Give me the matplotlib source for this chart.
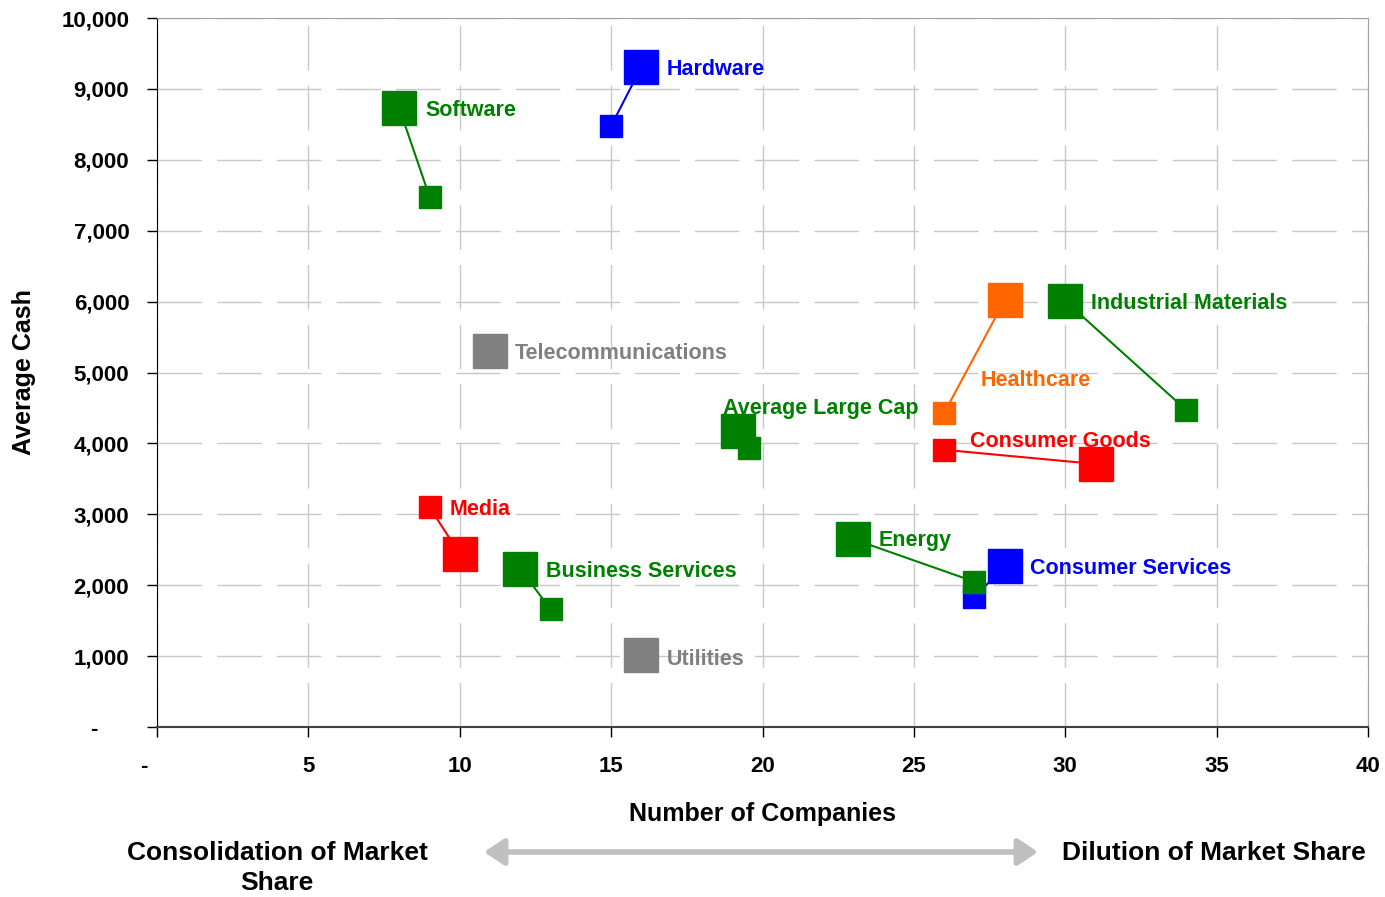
import matplotlib
matplotlib.use("Agg")
import matplotlib.pyplot as plt
from matplotlib.ticker import FuncFormatter

plt.rcParams['font.family'] = ['Liberation Sans', 'DejaVu Sans']
plt.rcParams['font.weight'] = 'bold'

# sectors: label, colour, small marker (x, y), big marker (x, y)
sectors = ["Software", "Hardware", "Telecommunications", "Average Large Cap",
           "Healthcare", "Industrial Materials", "Consumer Goods", "Media",
           "Business Services", "Consumer Services", "Energy", "Utilities"]
colors = ["#008000", "#0000FF", "#808080", "#008000",
          "#FF6600", "#008000", "#FF0000", "#FF0000",
          "#008000", "#0000FF", "#008000", "#808080"]
small_x = [9, 15, None, 19.55, 26, 34, 26, 9, 13, 27, 27, None]
small_y = [7480, 8480, None, 3940, 4430, 4470, 3910, 3100, 1660, 1830, 2050, None]
big_x = [8, 16, 11, 19.2, 28, 30, 31, 10, 12, 28, 23, 16]
big_y = [8730, 9310, 5300, 4170, 6020, 6010, 3710, 2440, 2230, 2270, 2650, 1020]
label_x = [8.85, 16.84, 11.82, 18.69, 27.21, 30.85, 26.85, 9.68, 12.85, 28.83, 23.84, 16.84]
label_y = [8730, 9310, 5300, 4530, 4920, 6010, 4060, 3100, 2230, 2270, 2670, 990]

fig = plt.figure(figsize=(13.85, 8.97), dpi=100)
ax = fig.add_axes([0.1134, 0.1895, 0.8743, 0.7904])

for i in range(len(sectors)):
    c = colors[i]
    if small_x[i] is not None:
        ax.plot([small_x[i], big_x[i]], [small_y[i], big_y[i]], color=c, lw=1.5, zorder=3)
        ax.plot(small_x[i], small_y[i], marker='s', ms=16, color=c, mec=c, ls='none', zorder=4)
    ax.plot(big_x[i], big_y[i], marker='s', ms=24, color=c, mec=c, ls='none', zorder=4)
    ax.text(label_x[i], label_y[i], sectors[i], color=c, fontsize=15.5, fontweight='bold',
            ha='left', va='center_baseline', zorder=5)

ax.set_xlim(0, 40)
ax.set_ylim(0, 10000)
ax.set_xticks(range(0, 41, 5))
ax.set_yticks(range(0, 10001, 1000))
ax.xaxis.set_major_formatter(FuncFormatter(lambda v, p: "-    " if v == 0 else f"{int(v)}"))
ax.yaxis.set_major_formatter(FuncFormatter(lambda v, p: "-     " if v == 0 else f"{int(v):,}"))
ax.tick_params(axis='both', direction='out', length=7, width=1, labelsize=16)
ax.tick_params(axis='x', pad=14)
ax.tick_params(axis='y', pad=13)
for lab in ax.get_xticklabels() + ax.get_yticklabels():
    lab.set_fontweight('bold')

ax.grid(True, color='#C8C8C8', ls=(0, (32, 11)), lw=1)
ax.set_axisbelow(True)
ax.spines['left'].set_color('black')
ax.spines['bottom'].set_color('#404040')
ax.spines['bottom'].set_linewidth(1.5)
ax.spines['top'].set_color('#A0A0A0')
ax.spines['right'].set_color('#A0A0A0')

ax.set_xlabel("Number of Companies", fontsize=18, fontweight='bold', labelpad=18)
ax.set_ylabel("Average Cash", fontsize=18, fontweight='bold')
ax.yaxis.set_label_coords(-0.1, 0.5)

fig.text(277 / 1385, 1 - 868 / 897, "Consolidation of Market\nShare", ha='center', va='center',
         fontsize=19, fontweight='bold', linespacing=1.3)
fig.text(1214 / 1385, 1 - 853 / 897, "Dilution of Market Share", ha='center', va='center',
         fontsize=19, fontweight='bold')
fig.add_artist(matplotlib.patches.FancyArrowPatch(
    (484 / 1385, 1 - 852 / 897), (1038 / 1385, 1 - 852 / 897), transform=fig.transFigure,
    arrowstyle='<|-|>,head_length=12,head_width=8', color='#C0C0C0', lw=4,
    mutation_scale=1, shrinkA=0, shrinkB=0))

fig.savefig("out.png", dpi=100)
